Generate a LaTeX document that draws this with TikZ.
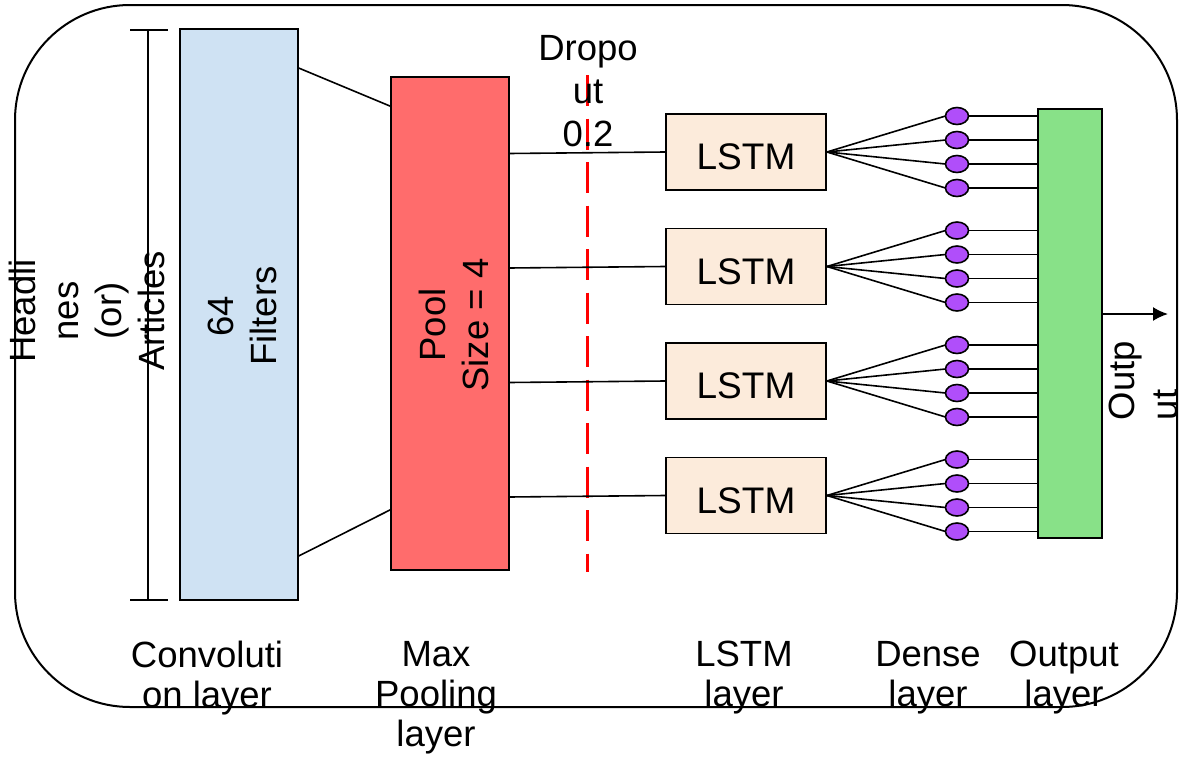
\documentclass[tikz,border=0pt]{standalone}
\usepackage{fontspec}
\setmainfont{Liberation Sans}
\usetikzlibrary{shapes.geometric,arrows.meta,calc}

\definecolor{convblue}{RGB}{207,226,243}
\definecolor{poolred}{RGB}{255,108,108}
\definecolor{lstmpeach}{RGB}{252,235,219}
\definecolor{densepurple}{RGB}{176,78,250}
\definecolor{outgreen}{RGB}{136,225,136}
\definecolor{dropred}{RGB}{255,0,0}

\tikzset{
  txt/.style={font=\fontsize{36.5}{43}\selectfont, inner sep=0pt, align=center},
  caption/.style={font=\fontsize{36.5}{40}\selectfont, inner sep=0pt, align=center, anchor=north},
  layerbox/.style={draw=black, line width=1.8pt, inner sep=0pt, rectangle},
  lstmbox/.style={layerbox, fill=lstmpeach, minimum width=160, minimum height=76,
    font=\fontsize{37}{43}\selectfont, text height=35.5pt, text depth=0pt},
  densenode/.style={ellipse, draw=black, line width=1.6pt, fill=densepurple,
    minimum width=23, minimum height=17, inner sep=0pt},
  wire/.style={draw=black, line width=1.6pt},
}

\begin{document}
\begin{tikzpicture}[x=1pt,y=-1pt]
\useasboundingbox (0,0) rectangle (1181,763);

% outer frame
\draw[line width=2pt, rounded corners=115pt] (15,5) rectangle (1177,707);

% input extent bracket
\coordinate (bt) at (148,30);
\coordinate (bb) at (148,600);
\draw[wire] (bt) -- (bb);
\draw[wire] ($(bt)+(-18,0)$) -- ($(bt)+(20,0)$);
\draw[wire] ($(bb)+(-18,0)$) -- ($(bb)+(20,0)$);
\node[txt, rotate=90] (src) at (86.5,311) {Headli\\nes\\(or)\\Articles};

% convolution layer
\node[layerbox, fill=convblue, minimum width=118, minimum height=571] (conv) at (239,314.5) {};
\node[txt, rotate=90] (convtxt) at (242,316) {64\\Filters};

% max pooling layer
\node[layerbox, fill=poolred, minimum width=118, minimum height=493] (pool) at (450,323.5) {};
\node[txt, rotate=90] (pooltxt) at (454,325) {Pool\\Size = 4};

\draw[wire] ($(conv.north east)+(0,40)$) -- ($(pool.north west)+(0,30)$);
\draw[wire] ($(conv.south east)+(0,-45)$) -- ($(pool.south west)+(0,-61)$);

% dropout
\coordinate (dtop) at (587,75);
\coordinate (dbot) at (587,572);
\draw[dropred, line width=3pt, dash pattern=on 31pt off 12.5pt] (dtop) -- (dbot);

% output layer
\node[layerbox, fill=outgreen, minimum width=64, minimum height=429] (out) at (1070,323.5) {};

% LSTM units with their dense nodes
\foreach \i/\yc in {1/152,2/266.5,3/381,4/495.5} {
  \node[lstmbox] (l\i) at (746,\yc) {LSTM};
  \coordinate (p\i) at (509,\yc+1.5);
  \draw[wire] (p\i) -- (l\i.west);
  \foreach \j/\dy in {1/-36,2/-12,3/12,4/36} {
    \draw[wire] (l\i.east) -- (957-11.5,\yc+\dy);
    \node[densenode] (d\i\j) at (957,\yc+\dy) {};
    \draw[wire] (d\i\j.east) -- (d\i\j.east -| out.west);
  }
}

\node[txt] (droptxt) at (588,91) {Dropo\\ut\\0.2};

% final output
\coordinate (otip) at (1168,314);
\draw[line width=1.8pt, -{Latex[length=15pt,width=14pt]}] (out.east |- otip) -- (otip);
\node[txt, rotate=90, align=left] (outtxt) at (1143,380.5) {Outp\\ut};

% layer captions
\node[caption] (cap1) at (207,641) {Convoluti\\on layer};
\node[caption] (cap2) at (436,641) {Max\\Pooling\\layer};
\node[caption] (cap3) at (744,641) {LSTM\\layer};
\node[caption] (cap4) at (928,641) {Dense\\layer};
\node[caption] (cap5) at (1064,641) {Output\\layer};
\end{tikzpicture}
\end{document}
